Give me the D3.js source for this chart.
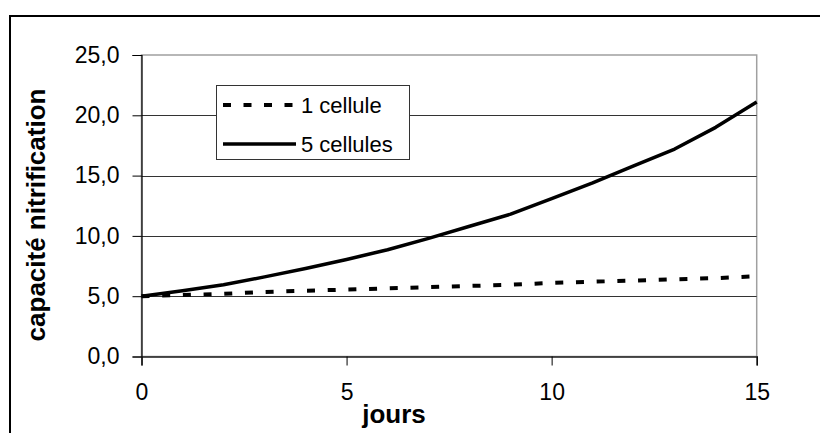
<!DOCTYPE html>
<html><head><meta charset="utf-8">
<script src="https://cdn.jsdelivr.net/npm/d3@7"></script>
<style>
html,body{margin:0;padding:0;background:#fff;}
svg{display:block;font-family:"Liberation Sans",Arial,sans-serif;}
</style></head>
<body>
<svg id="chart" width="820" height="433"></svg>
<script>
// Data
const jours = [0,1,2,3,4,5,6,7,8,9,10,11,12,13,14,15];
const uneCellule = [5.0,5.1,5.2,5.35,5.45,5.55,5.65,5.75,5.85,5.95,6.1,6.2,6.3,6.4,6.5,6.65];
const cinqCellules = [5.0,5.45,5.95,6.6,7.3,8.05,8.85,9.8,10.8,11.8,13.1,14.4,15.8,17.2,19.0,21.1];
const xTicks = [0,5,10,15];
const yTicks = [0,5,10,15,20,25];
const seriesNames = ["1 cellule","5 cellules"];
const xTitle = "jours";
const yTitle = "capacité nitrification";

const svg = d3.select("#chart");
const x = d3.scaleLinear().domain([0,15]).range([141.5,756.7]);
const y = d3.scaleLinear().domain([0,25]).range([356.5,55]);
const fmt = v => d3.format(".1f")(v).replace(".", ",");

// outer frame (extends beyond viewport)
svg.append("rect").attr("x",10).attr("y",16).attr("width",830).attr("height",440)
  .attr("fill","none").attr("stroke","#000").attr("stroke-width",2);

// plot area border
svg.append("rect").attr("x",x(0)).attr("y",y(25)).attr("width",x(15)-x(0)).attr("height",y(0)-y(25))
  .attr("fill","none").attr("stroke","#a0a0a0").attr("stroke-width",1.5);

// gridlines
svg.append("g").selectAll("line").data(yTicks.filter(d=>d>0 && d<25)).join("line")
  .attr("x1",x(0)).attr("x2",x(15)).attr("y1",d=>Math.round(y(d))+0.5).attr("y2",d=>Math.round(y(d))+0.5)
  .attr("stroke","#333").attr("stroke-width",1);

// y axis
const yAxis = svg.append("g").attr("transform",`translate(${x(0)},0)`)
  .call(d3.axisLeft(y).tickValues(yTicks).tickFormat(fmt).tickSize(9).tickPadding(13));
yAxis.select(".domain").attr("stroke","#000").attr("stroke-width",1.2);
yAxis.selectAll(".tick line").attr("stroke","#000");
yAxis.selectAll("text").attr("font-size",23).attr("fill","#000").attr("font-family","Liberation Sans, Arial, sans-serif");

// x axis
const xAxis = svg.append("g").attr("transform",`translate(0,${y(0)})`)
  .call(d3.axisBottom(x).tickValues(xTicks).tickFormat(d3.format("d")).tickSize(9).tickPadding(18));
xAxis.select(".domain").attr("stroke","#222").attr("stroke-width",1.5);
xAxis.selectAll(".tick line").attr("stroke","#000");
xAxis.selectAll("text").attr("font-size",23).attr("fill","#000").attr("font-family","Liberation Sans, Arial, sans-serif");

// lines
const line = d3.line().x((d,i)=>x(jours[i])).y(d=>y(d));
svg.append("path").datum(uneCellule).attr("d",line).attr("fill","none")
  .attr("stroke","#000").attr("stroke-width",4).attr("stroke-dasharray","8,12.7");
svg.append("path").datum(cinqCellules).attr("d",line).attr("fill","none")
  .attr("stroke","#000").attr("stroke-width",3.5).attr("stroke-linejoin","round");

// legend
const lg = svg.append("g");
lg.append("rect").attr("x",216.5).attr("y",85.5).attr("width",193).attr("height",74)
  .attr("fill","#fff").attr("stroke","#333").attr("stroke-width",1);
const ly = [105,144];
const dashes = ["8,12.5", null];
const widths = [4,3.5];
seriesNames.forEach((n,i)=>{
  lg.append("line").attr("x1",223).attr("x2",296).attr("y1",ly[i]).attr("y2",ly[i])
    .attr("stroke","#000").attr("stroke-width",widths[i]).attr("stroke-dasharray",dashes[i]);
  lg.append("text").attr("x",301).attr("y",ly[i]).attr("dy","0.35em")
    .attr("font-size",22).attr("fill","#000").text(n);
});

// axis titles
svg.append("text").attr("x",394).attr("y",423).attr("text-anchor","middle")
  .attr("font-size",26).attr("font-weight","bold").attr("fill","#000").text(xTitle);
svg.append("text").attr("transform","translate(45,215) rotate(-90)").attr("text-anchor","middle")
  .attr("font-size",26).attr("font-weight","bold").attr("fill","#000").text(yTitle);
</script>
</body></html>
